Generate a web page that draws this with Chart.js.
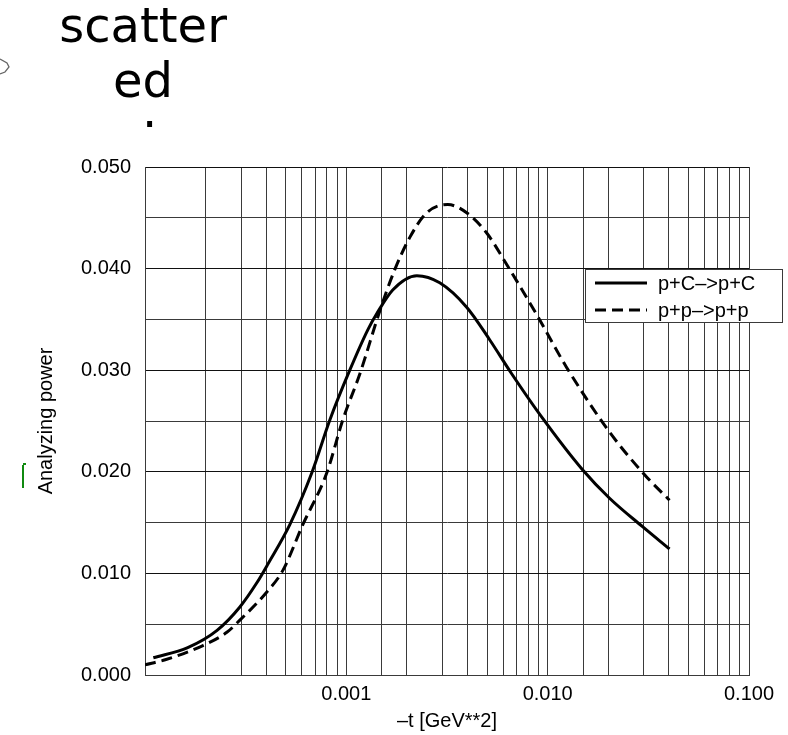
<!DOCTYPE html>
<html>
<head>
<meta charset="utf-8">
<script src="https://cdn.jsdelivr.net/npm/chart.js@4/dist/chart.umd.min.js"></script>
<style>
  html, body { margin: 0; padding: 0; background: #fff; }
  #wrap { position: relative; width: 788px; height: 735px; overflow: hidden; }
  #chart { position: absolute; left: 0; top: 0; }
  .stray { position: absolute; font-family: "DejaVu Sans", sans-serif; font-size: 48px; color: #000; }
  #word { left: 43px; top: -2px; width: 200px; text-align: center; line-height: 55px; }
  #dot { left: 142px; top: 83px; line-height: 55px; }
  #tick { position: absolute; left: 22px; top: 465px; width: 2px; height: 23px; background: #108a10; }
  #tick:before { content: ""; position: absolute; left: 1px; top: -2px; width: 3px; height: 2px; background: #108a10; }
  #arrow { position: absolute; left: 0; top: 56px; }
</style>
</head>
<body>
<div id="wrap">
  <canvas id="chart" width="788" height="735"></canvas>
  <div class="stray" id="word">scatter<br>ed</div>
  <div class="stray" id="dot">.</div>
  <div id="tick"></div>
  <svg id="arrow" width="12" height="22"><polyline points="0,3 7,7 9,11 5,16 0,18" fill="none" stroke="#666" stroke-width="1.3"/></svg>
</div>
<script>
// valeurs : -t [GeV**2] et pouvoir d'analyse
const T_PC = [1.1e-4, 1.63e-4, 2.28e-4, 2.96e-4, 3.6e-4, 4.1e-4, 5.24e-4, 6.74e-4, 8.28e-4, 1.04e-3,
  1.28e-3, 1.42e-3, 1.70e-3, 2.24e-3, 2.91e-3, 3.96e-3, 5.15e-3, 6.6e-3, 9.33e-3, 1.49e-2, 2.03e-2, 2.96e-2, 4.03e-2];
const AN_PC = [0.0017, 0.0027, 0.0044, 0.0067, 0.0091, 0.0110, 0.0148, 0.0199, 0.0251, 0.0300,
  0.0340, 0.0356, 0.0379, 0.0393, 0.0386, 0.0362, 0.0330, 0.0297, 0.0254, 0.0202, 0.0174, 0.0146, 0.0124];

const T_PP = [1.0e-4, 1.26e-4, 1.94e-4, 2.55e-4, 2.96e-4, 4.0e-4, 4.84e-4, 6.08e-4, 8.0e-4, 9.6e-4, 1.17e-3,
  1.47e-3, 1.74e-3, 2.07e-3, 2.51e-3, 3.19e-3, 3.96e-3, 4.98e-3, 6.26e-3, 8.8e-3, 1.24e-2, 2.03e-2, 3.1e-2, 4.03e-2];
const AN_PP = [0.0010, 0.0015, 0.0029, 0.0042, 0.0054, 0.0081, 0.0103, 0.0148, 0.0199, 0.0251, 0.0297,
  0.0359, 0.0399, 0.0431, 0.0455, 0.0463, 0.0455, 0.0435, 0.0404, 0.0355, 0.0303, 0.0239, 0.0195, 0.0172];

const SERIES_LABELS = ["p+C–>p+C", "p+p–>p+p"];
const X_MIN = 0.0001, X_MAX = 0.1;
const Y_MIN = 0, Y_MAX = 0.05, Y_STEP = 0.005;
const X_TITLE = "–t [GeV**2]";
const Y_TITLE = "Analyzing power";

const FONT = { family: '"Liberation Sans", Arial, sans-serif', size: 20 };
const GRID = "#3a3a3a";

function points(xs, ys) {
  return xs.map((x, i) => ({ x, y: ys[i] }));
}

function isDecade(v) {
  const l = Math.log10(v);
  return Math.abs(l - Math.round(l)) < 1e-6;
}

// légende encadrée, à cheval sur le bord droit du cadre
const boxedLegend = {
  id: "boxedLegend",
  afterDraw(chart) {
    const ctx = chart.ctx;
    const x0 = 585, y0 = 269, w = 197, h = 53;
    ctx.save();
    ctx.fillStyle = "#fff";
    ctx.fillRect(x0, y0, w, h);
    ctx.strokeStyle = GRID;
    ctx.lineWidth = 1;
    ctx.strokeRect(x0 + 0.5, y0 + 0.5, w, h);
    chart.data.datasets.forEach((ds, i) => {
      const y = y0 + 14 + i * 27;
      ctx.beginPath();
      ctx.setLineDash(ds.borderDash || []);
      ctx.lineWidth = ds.borderWidth;
      ctx.strokeStyle = ds.borderColor;
      ctx.moveTo(x0 + 10, y);
      ctx.lineTo(x0 + 62, y);
      ctx.stroke();
      ctx.setLineDash([]);
      ctx.fillStyle = "#000";
      ctx.font = `${FONT.size}px ${FONT.family}`;
      ctx.textBaseline = "middle";
      ctx.fillText(ds.label, x0 + 73, y + 1);
    });
    ctx.restore();
  },
};

new Chart(document.getElementById("chart"), {
  type: "line",
  data: {
    datasets: [
      { label: SERIES_LABELS[0], data: points(T_PC, AN_PC), borderColor: "#000", borderWidth: 3,
        pointRadius: 0, cubicInterpolationMode: "monotone", fill: false },
      { label: SERIES_LABELS[1], data: points(T_PP, AN_PP), borderColor: "#000", borderWidth: 3, borderDash: [11, 6],
        pointRadius: 0, cubicInterpolationMode: "monotone", fill: false },
    ],
  },
  options: {
    responsive: false,
    animation: false,
    layout: { padding: { top: 167, right: 39, bottom: 0, left: 0 } },
    plugins: { legend: { display: false }, tooltip: { enabled: false } },
    scales: {
      x: {
        type: "logarithmic",
        min: X_MIN,
        max: X_MAX,
        afterFit(s) { s.height = 60; s.paddingLeft = 0; s.paddingRight = 0; },
        grid: { color: GRID, lineWidth: 1, drawTicks: false },
        border: { color: GRID },
        ticks: {
          autoSkip: false,
          maxRotation: 0,
          padding: 7,
          color: "#000",
          font: FONT,
          callback: (v) => (isDecade(v) && v > X_MIN * 1.5 ? v.toFixed(3) : ""),
        },
        title: { display: true, text: X_TITLE, color: "#000", font: FONT, padding: { top: 0, bottom: 2 } },
      },
      y: {
        min: Y_MIN,
        max: Y_MAX,
        afterFit(s) { s.width = 145; s.paddingTop = 0; s.paddingBottom = 0; },
        grid: { color: (c) => (Math.round(c.tick.value * 1000) % 10 === 0 ? "#111" : GRID), lineWidth: 1, drawTicks: false },
        border: { color: GRID },
        ticks: {
          stepSize: Y_STEP,
          autoSkip: false,
          padding: 14,
          color: "#000",
          font: FONT,
          callback: (v) => (Math.round(v * 1000) % 10 === 0 ? v.toFixed(3) : ""),
        },
        title: { display: true, text: Y_TITLE, color: "#000", font: FONT, padding: { top: 34, bottom: 0 } },
      },
    },
  },
  plugins: [boxedLegend],
});
</script>
</body>
</html>
